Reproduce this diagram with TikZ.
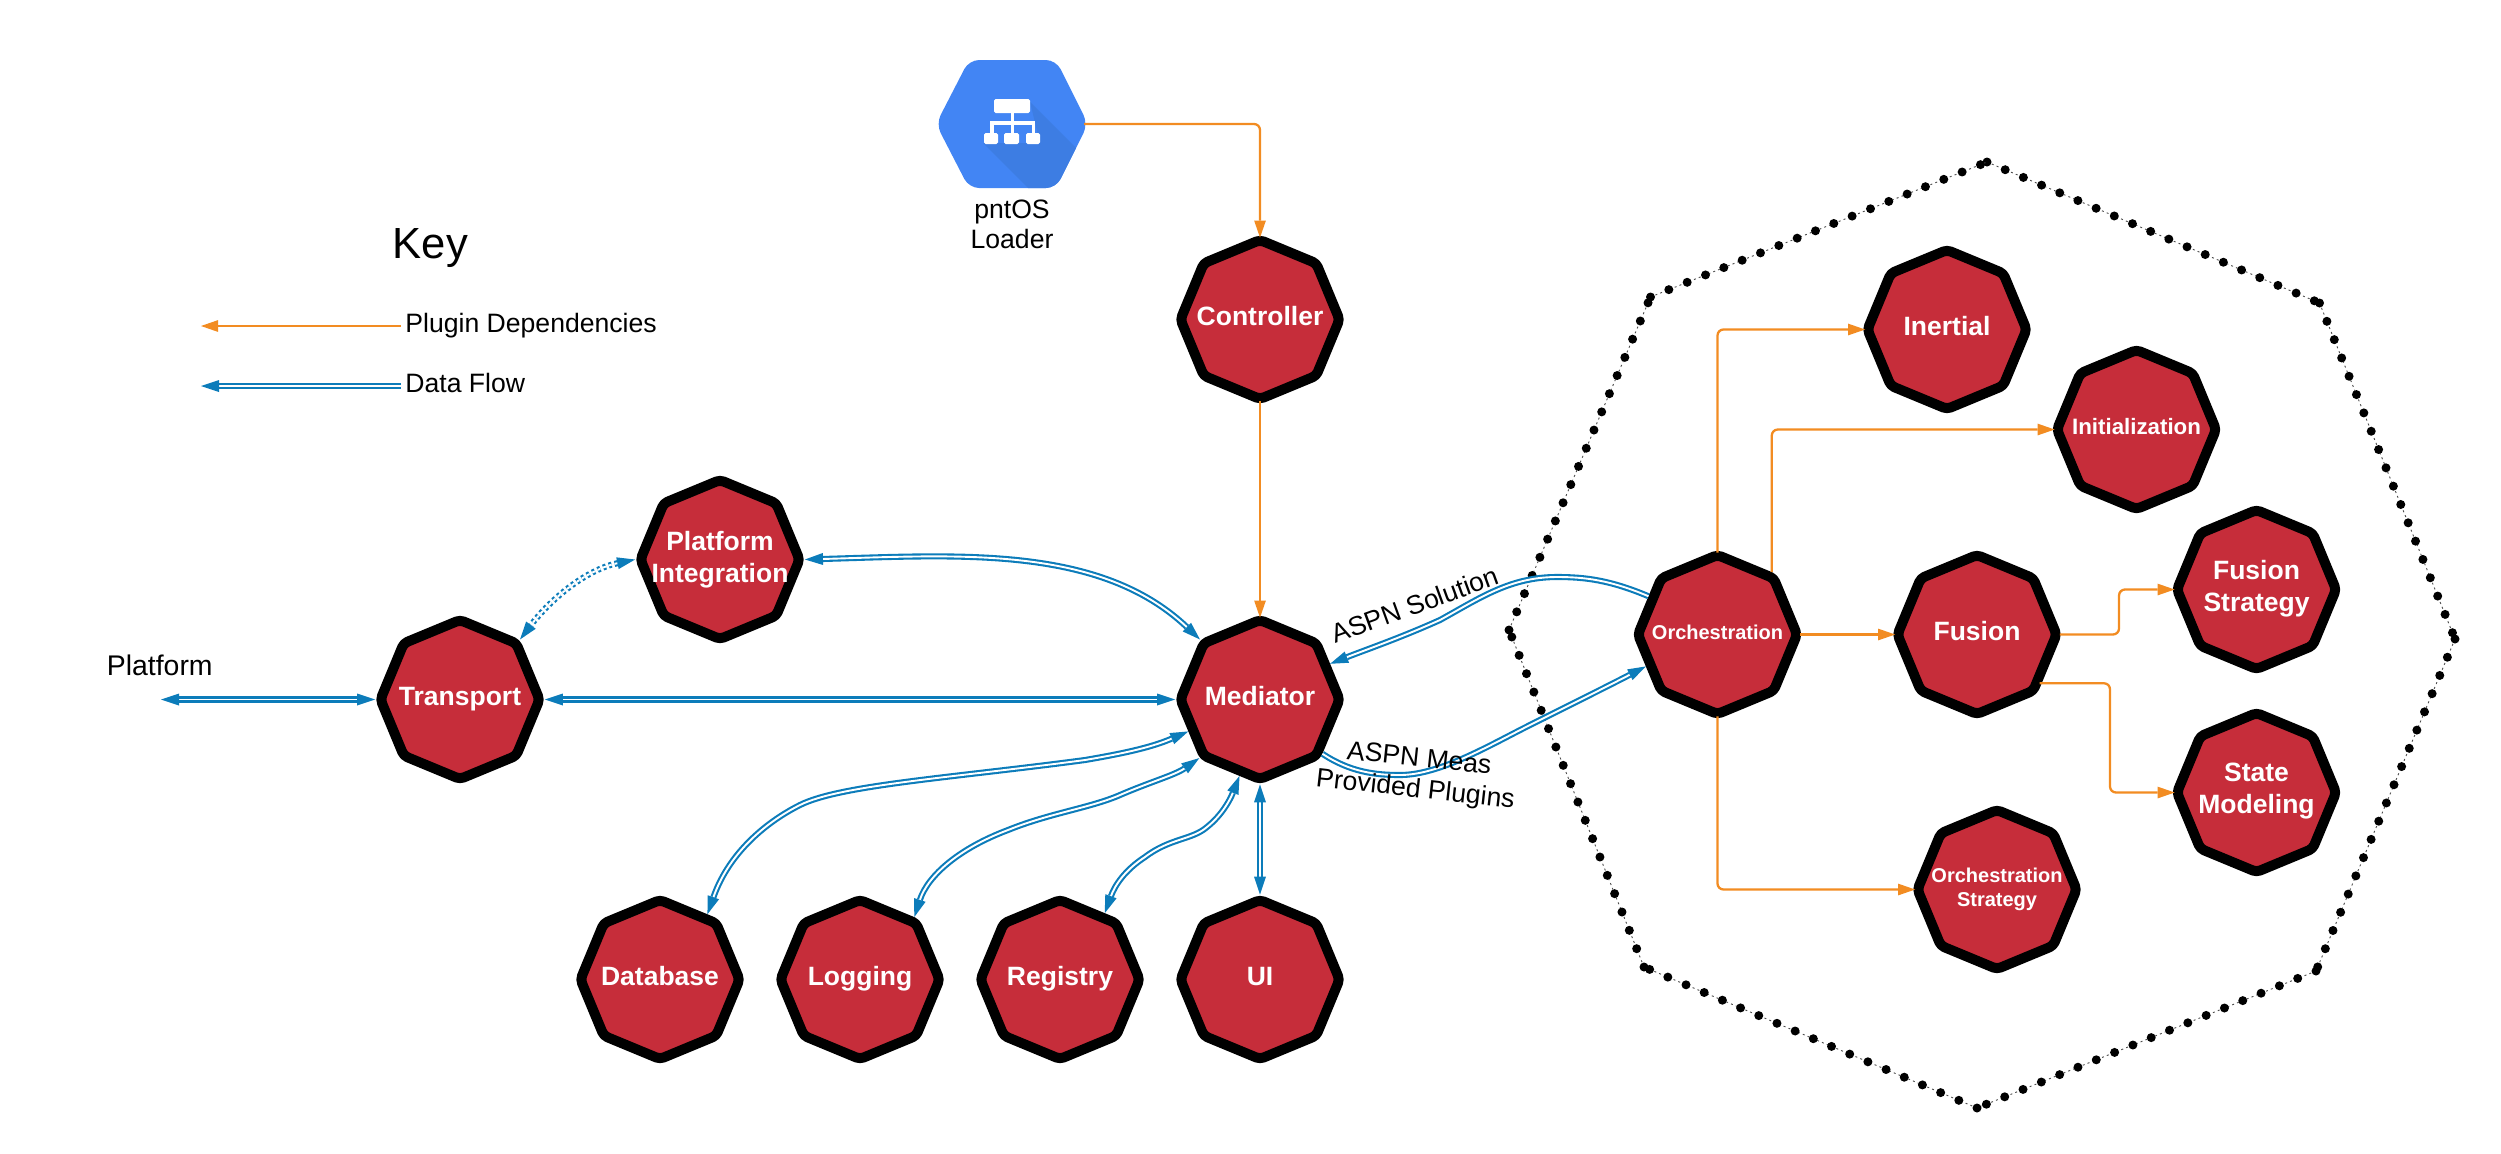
\documentclass[tikz,border=0pt]{standalone}
\usepackage{fontspec}
\setmainfont{Liberation Sans}
\setsansfont{Liberation Sans}
\usetikzlibrary{arrows.meta,shapes.geometric}
\definecolor{oct}{HTML}{C62D3A}
\definecolor{org}{HTML}{F28C22}
\definecolor{blu}{HTML}{0C7CBA}
\definecolor{gblue}{HTML}{4285F4}
\definecolor{gshade}{HTML}{3D7DE3}
\newcommand\lone[2]{\raisebox{#1}[0pt][0pt]{\makebox[0pt][c]{#2}}}
\newcommand\ltwo[4]{\raisebox{#1}[0pt][0pt]{\makebox[0pt][c]{#3}}\raisebox{#2}[0pt][0pt]{\makebox[0pt][c]{#4}}}
\tikzset{
  plug/.style={regular polygon,regular polygon sides=8,shape border rotate=22.5,
    minimum size=79.5pt,inner sep=0pt,outer sep=auto,draw=black,fill=oct,line width=5pt,line join=round,
    rounded corners=2pt,text=white,font=\fontsize{13.25}{16}\selectfont\bfseries},
  txt/.style={inner sep=0pt,anchor=base west,text=black,font=\fontsize{13.3}{16}\selectfont},
  dep/.style={draw=org,line width=1.15pt,rounded corners=3pt,shorten >=-1.5pt,
    -{Triangle[length=8.5pt,width=5.9pt,fill=org,line width=0pt]}},
  flowbase/.style={draw=blu,line width=1.05pt,double=white,double distance=0.95pt,
    >={Triangle[length=9pt,width=6pt,fill=blu,line width=0pt]}},
  flow/.style={flowbase,->},
  flowb/.style={flowbase,<->},
  bigdot/.style={line width=4.5pt,line cap=round,dash pattern=on 0pt off 9.875pt},
  thindot/.style={line width=0.45pt,dash pattern=on 1pt off 1.6pt,draw=black!70},
}
\begin{document}
\begin{tikzpicture}[x=0.5pt,y=-0.5pt]
\useasboundingbox (0,0) rectangle (2501,1153);
% dotted enclosure
\coordinate (vT) at (1987,162);
\coordinate (vUR) at (2319.5,303);
\coordinate (vR) at (2455,639);
\coordinate (vLR) at (2316,971);
\coordinate (vB) at (1977,1108);
\coordinate (vLL) at (1644,967);
\coordinate (vL) at (1509,630);
\coordinate (vUL) at (1650.5,297);
\foreach \a/\b in {vT/vUR,vUR/vR,vR/vLR,vLR/vB,vB/vLL,vLL/vL,vL/vUL,vUL/vT}{
  \draw[thindot] (\a) -- (\b);
  \draw[bigdot] (\a) -- (\b);}
% loader icon
\begin{scope}
\clip[rounded corners=5pt] (936,124) -- (969,60) -- (1056,60) -- (1088,124) -- (1056,188) -- (969,188) -- cycle;
\fill[gblue] (930,50) rectangle (1095,195);
\fill[gshade] (1030,102) -- (1095,167) -- (1095,195) -- (1035,195) -- (983,143) -- (1040,143) -- cycle;
\end{scope}
\fill[white,rounded corners=0.8pt] (994,99) rectangle (1030,113);
\fill[white,rounded corners=0.8pt] (984,133) rectangle (998,144);
\fill[white,rounded corners=0.8pt] (1004,133) rectangle (1019,144);
\fill[white,rounded corners=0.8pt] (1026,133) rectangle (1040,144);
\fill[white] (1010.5,113) rectangle (1014,133);
\fill[white] (990,121) rectangle (1035,125);
\fill[white] (990,121) rectangle (994,133);
\fill[white] (1031.5,121) rectangle (1035,133);
\coordinate (loaderR) at (1084,124);
\node[txt,anchor=base] (ltxa) at (1012,218) {pntOS};
\node[txt,anchor=base] (ltxb) at (1012,248) {Loader};
% plugins
\node[plug] (ctrl) at (1260,319.5) {\lone{-2.75pt}{Controller}};
\node[plug] (med) at (1260,699.5) {\lone{-2.75pt}{Mediator}};
\node[plug] (pi) at (720,559.5) {\ltwo{4.75pt}{-11.25pt}{Platform}{Integration}};
\node[plug] (tr) at (460,699.5) {\lone{-2.75pt}{Transport}};
\node[plug] (db) at (660,979.5) {\lone{-2.75pt}{Database}};
\node[plug] (lg) at (860,979.5) {\lone{-2.75pt}{Logging}};
\node[plug] (rg) at (1060,979.5) {\lone{-2.75pt}{Registry}};
\node[plug] (ui) at (1260,979.5) {\lone{-2.75pt}{UI}};
\node[plug] (orch) at (1717.5,634.5) {\lone{-2.25pt}{\fontsize{10}{12}\selectfont Orchestration}};
\node[plug] (fus) at (1977,634.5) {\lone{-2.75pt}{Fusion}};
\node[plug] (iner) at (1947,329.5) {\lone{-2.75pt}{Inertial}};
\node[plug] (init) at (2136.5,429.5) {\lone{-2.25pt}{\fontsize{11.15}{13}\selectfont Initialization}};
\node[plug] (fst) at (2256.5,589.5) {\ltwo{5.25pt}{-10.75pt}{Fusion}{Strategy}};
\node[plug] (sm) at (2256.5,792.5) {\ltwo{5.5pt}{-10.5pt}{State}{Modeling}};
\node[plug] (ost) at (1997,889.5) {\ltwo{3.4pt}{-8.6pt}{\fontsize{10}{12}\selectfont Orchestration}{\fontsize{10}{12}\selectfont Strategy}};
% dependencies
\draw[dep] (loaderR) -| (ctrl.north);
\draw[dep,shorten <=-1.5pt] (ctrl.south) -- (med.north);
\draw[dep,shorten <=-1.5pt] (orch.north) |- (iner.west);
\draw[dep] (orch.49) |- (init.west);
\draw[dep,shorten <=-1pt] (orch.east) -- (fus.west);
\draw[dep,shorten <=-1pt] (fus.east) -| (2119,589.5) -- (fst.west);
\draw[dep,shorten <=-1pt] (fus.-37) -| (2110,792.5) -- (sm.west);
\draw[dep,shorten <=-1.5pt] (orch.south) |- (ost.west);
% data flow
\coordinate (pfEnd) at (161,699.5);
\draw[flowb] (pfEnd) -- (tr.west);
\draw[flowb] (tr.east) -- (med.west);
\draw[flowb] (pi.east) .. controls (960,555) and (1100,545) .. (med.135);
\draw[flowb,dash pattern=on 1.5pt off 1.5pt] (pi.west) .. controls (585,570) and (550,600) .. (tr.45);
\draw[flowb] (db.54.7) .. controls (730,850) and (770,820) .. (800,805)
   .. controls (840,785) and (950,778) .. (1085,760)
   .. controls (1120,754) and (1150,748) .. (med.204);
\draw[flowb] (lg.49.6) .. controls (928,875) and (960,848) .. (1008,830)
   .. controls (1050,813) and (1090,808) .. (1120,795)
   .. controls (1150,782) and (1175,775) .. (med.-136);
\draw[flowb] (rg.56) .. controls (1115,885) and (1125,870) .. (1145,857)
   .. controls (1170,838) and (1192,840) .. (1207,827)
   .. controls (1222,815) and (1230,800) .. (med.-105);
\draw[flowb] (ui.north) -- (med.south);
\draw[flow] (orch.151) .. controls (1610,580) and (1585,577) .. (1557,577)
   .. controls (1510,577) and (1480,598) .. (1440,620)
   .. controls (1400,638) and (1365,650) .. (med.27);
\draw[flow] (med.-41.8) .. controls (1350,772) and (1375,775) .. (1400,775)
   .. controls (1440,775) and (1490,745) .. (1530,725)
   .. controls (1570,705) and (1610,685) .. (orch.204);
% labels
\node[txt,font=\fontsize{21.8}{26}\selectfont] (key) at (392.5,258) {Key};
\node[txt] (kdep) at (405,332.5) {Plugin Dependencies};
\node[txt] (kflow) at (405,392.5) {Data Flow};
\coordinate (kda) at (400.5,326);
\coordinate (kdb) at (201,326);
\coordinate (kfa) at (400.5,386);
\coordinate (kfb) at (201,386);
\draw[dep,shorten >=0pt] (kda) -- (kdb);
\draw[flow] (kfa) -- (kfb);
\node[txt,font=\fontsize{14.2}{17}\selectfont] (plat) at (106.5,675) {Platform};
\node[txt,rotate=20] (lsol) at (1335,644) {ASPN Solution};
\node[txt,rotate=-6] (lmeas) at (1346,759) {ASPN Meas};
\node[txt,rotate=-6.4] (lprov) at (1315,786) {Provided Plugins};
\end{tikzpicture}
\end{document}
